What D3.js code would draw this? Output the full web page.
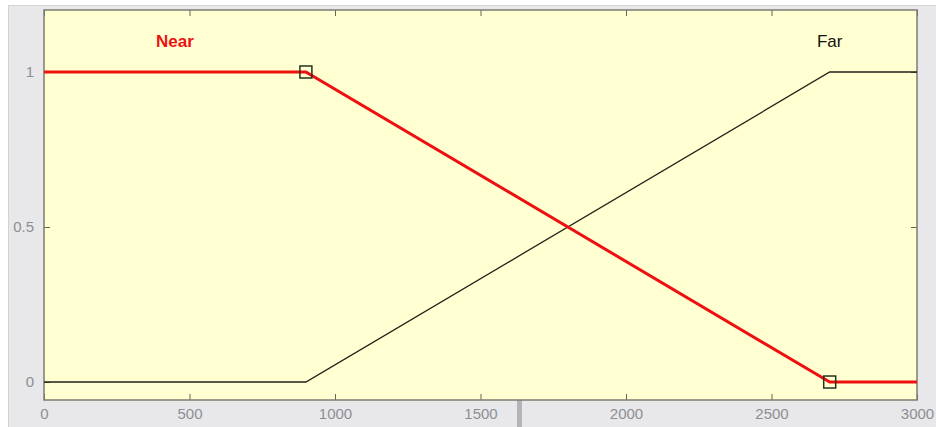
<!DOCTYPE html>
<html>
<head>
<meta charset="utf-8">
<script src="https://cdn.jsdelivr.net/npm/d3@7"></script>
<style>
  html, body { margin: 0; padding: 0; background: #ffffff; }
  svg { display: block; }
</style>
</head>
<body>
<svg id="chart" width="936" height="427"></svg>
<script>
// Membership functions for distance (trapezoidal shoulders)
const nearPoints = [[0, 1], [900, 1], [2700, 0], [3000, 0]];
const farPoints = [[0, 0], [900, 0], [2700, 1], [3000, 1]];
const nearHandles = [[900, 1], [2700, 0]];
const xTicks = [0, 500, 1000, 1500, 2000, 2500, 3000];
const yTicks = [0, 0.5, 1];
const labels = [
  { name: "Near", x: 450, y: 1.095, color: "#ee1111", weight: "bold", size: 17 },
  { name: "Far", x: 2700, y: 1.095, color: "#111111", weight: "normal", size: 17 }
];

const svg = d3.select("#chart");
const W = 936, H = 427;
const plot = { left: 44, right: 917, top: 10, bottom: 400 };

// window frame
svg.append("rect").attr("x", 8.5).attr("y", 5.5).attr("width", W - 8).attr("height", H - 5)
  .attr("fill", "#e8e8eb").attr("stroke", "#d2d2d6");
svg.append("rect").attr("x", 517).attr("y", 396).attr("width", 5).attr("height", 31)
  .attr("fill", "#b4b4b8");

const x = d3.scaleLinear().domain([0, 3000]).range([plot.left, plot.right]);
const y = d3.scaleLinear().domain([-0.058, 1.2]).range([plot.bottom, plot.top]);

svg.append("rect")
  .attr("x", plot.left).attr("y", plot.top)
  .attr("width", plot.right - plot.left).attr("height", plot.bottom - plot.top)
  .attr("fill", "#ffffd2");

const tickFont = "Liberation Sans, Arial, sans-serif";

// axes with inward ticks on all four sides
const axB = svg.append("g").attr("transform", `translate(0,${plot.bottom})`)
  .call(d3.axisBottom(x).tickValues(xTicks).tickSize(-6).tickPadding(11).tickFormat(d3.format("d")));
const axT = svg.append("g").attr("transform", `translate(0,${plot.top})`)
  .call(d3.axisTop(x).tickValues(xTicks).tickSize(-6).tickFormat(""));
const axL = svg.append("g").attr("transform", `translate(${plot.left},0)`)
  .call(d3.axisLeft(y).tickValues(yTicks).tickSize(-6).tickPadding(10).tickFormat(d => d === 0.5 ? "0.5" : d3.format("d")(d)));
const axR = svg.append("g").attr("transform", `translate(${plot.right},0)`)
  .call(d3.axisRight(y).tickValues(yTicks).tickSize(-6).tickFormat(""));

[axB, axT, axL, axR].forEach(g => {
  g.select(".domain").remove();
  g.selectAll(".tick line").attr("stroke", "#666655").attr("stroke-width", 1);
  g.selectAll(".tick text").attr("fill", "#8e8e92").attr("font-family", tickFont).attr("font-size", 15);
});
axB.selectAll(".tick text").attr("dy", "0.5em");

// plot border
svg.append("rect")
  .attr("x", plot.left).attr("y", plot.top)
  .attr("width", plot.right - plot.left).attr("height", plot.bottom - plot.top)
  .attr("fill", "none").attr("stroke", "#7c7c74").attr("stroke-width", 1.5);

const line = d3.line().x(d => x(d[0])).y(d => y(d[1]));

svg.append("path").datum(farPoints).attr("d", line)
  .attr("fill", "none").attr("stroke", "#222218").attr("stroke-width", 1.3);

svg.append("path").datum(nearPoints).attr("d", line)
  .attr("fill", "none").attr("stroke", "#ee1010").attr("stroke-width", 3);

svg.selectAll(".handle").data(nearHandles).enter().append("rect")
  .attr("class", "handle")
  .attr("x", d => x(d[0]) - 6).attr("y", d => y(d[1]) - 6)
  .attr("width", 12).attr("height", 12)
  .attr("fill", "none").attr("stroke", "#223322").attr("stroke-width", 1.5);

svg.selectAll(".mflabel").data(labels).enter().append("text")
  .attr("class", "mflabel")
  .attr("x", d => x(d.x)).attr("y", d => y(d.y))
  .attr("text-anchor", "middle").attr("dominant-baseline", "middle")
  .attr("fill", d => d.color).attr("font-weight", d => d.weight)
  .attr("font-family", tickFont).attr("font-size", d => d.size)
  .text(d => d.name);
</script>
</body>
</html>
